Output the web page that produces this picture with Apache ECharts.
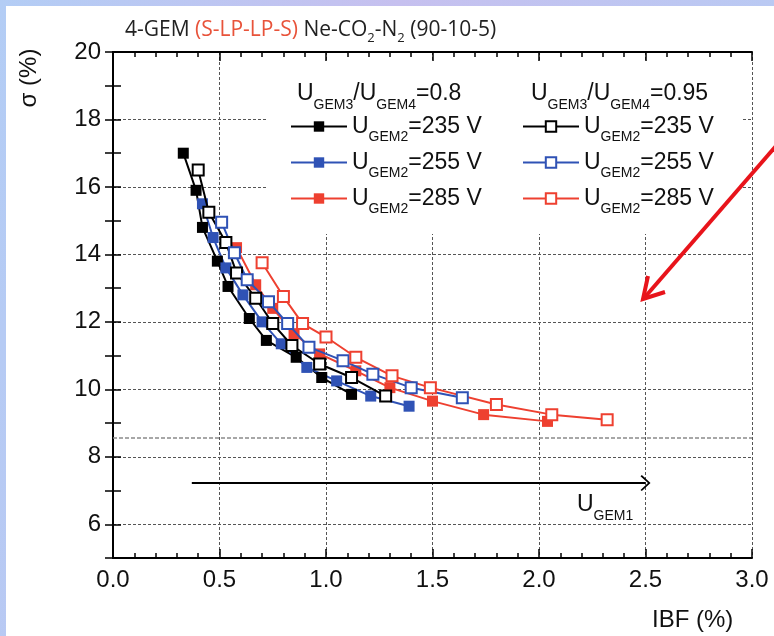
<!DOCTYPE html>
<html lang="en">
<head>
<meta charset="UTF-8" />
<title>sigma vs IBF</title>
<script src="https://cdn.jsdelivr.net/npm/echarts@6.0.0/dist/echarts.min.js"></script>
<style>
  html, body { margin: 0; padding: 0; }
  #main {
    width: 774px; height: 636px;
    background:
      linear-gradient(#fff, #fff) 6px 6px / 768px 630px no-repeat,
      linear-gradient(100deg, #b3cdf5 0%, #c6c0ef 45%, #b6ccf4 100%);
  }
</style>
</head>
<body>
<div id="main"></div>
<script>
const FONT = '"Liberation Sans", Arial, sans-serif';

// IBF (%) / sigma (%)
// U_GEM3/U_GEM4 = 0.8 -> filled squares
const ibfA235 = [0.33, 0.39, 0.42, 0.49, 0.54, 0.64, 0.72, 0.86, 0.98, 1.12];
const sigA235 = [17.0, 15.9, 14.8, 13.8, 13.05, 12.1, 11.45, 10.95, 10.35, 9.85];
const ibfA255 = [0.42, 0.47, 0.53, 0.61, 0.70, 0.79, 0.91, 1.05, 1.21, 1.39];
const sigA255 = [15.5, 14.5, 13.6, 12.8, 12.0, 11.35, 10.65, 10.25, 9.8, 9.5];
const ibfA285 = [0.58, 0.67, 0.75, 0.85, 0.97, 1.14, 1.30, 1.50, 1.74, 2.04];
const sigA285 = [14.2, 13.1, 12.4, 11.65, 11.05, 10.55, 10.05, 9.65, 9.25, 9.05];
// U_GEM3/U_GEM4 = 0.95 -> open squares
const ibfB235 = [0.40, 0.45, 0.53, 0.58, 0.67, 0.75, 0.84, 0.97, 1.12, 1.28];
const sigB235 = [16.5, 15.25, 14.35, 13.45, 12.7, 11.95, 11.3, 10.75, 10.35, 9.8];
const ibfB255 = [0.51, 0.57, 0.63, 0.73, 0.82, 0.92, 1.08, 1.22, 1.40, 1.64];
const sigB255 = [14.95, 14.05, 13.25, 12.6, 11.95, 11.25, 10.85, 10.45, 10.05, 9.75];
const ibfB285 = [0.70, 0.80, 0.89, 1.00, 1.14, 1.31, 1.49, 1.80, 2.06, 2.32];
const sigB285 = [13.75, 12.75, 11.95, 11.55, 10.95, 10.4, 10.05, 9.55, 9.25, 9.1];

const voltages = ['235', '255', '285'];
const yTickLabels = [6, 8, 10, 12, 14, 16, 18, 20];

// U_GEM1 arrow and the grey dashed level
const arrowFrom = [0.37, 7.22];
const arrowTo = [2.5, 7.22];
const dashedLevel = 8.55;

const BLACK = '#000000', BLUE = '#2f52b5', RED = '#ee4030';

const rich = {
  u: { fontFamily: FONT, fontSize: 23, fontWeight: 'normal', color: '#111', lineHeight: 36, verticalAlign: 'middle' },
  s: { fontFamily: FONT, fontSize: 14, fontWeight: 'normal', color: '#111', lineHeight: 14, verticalAlign: 'bottom' }
};

function makeSeries(name, xs, ys, color, open) {
  return {
    name: name,
    type: 'line',
    data: xs.map((x, i) => [x, ys[i]]),
    symbol: open ? 'emptyRect' : 'rect',
    symbolSize: 11,
    lineStyle: { color: color, width: 2 },
    itemStyle: { color: color, borderColor: color, borderWidth: open ? 1.6 : 0 },
    emphasis: { disabled: true },
    z: open ? 3 : 2
  };
}

const series = [
  makeSeries('a235', ibfA235, sigA235, BLACK, false),
  makeSeries('a255', ibfA255, sigA255, BLUE, false),
  makeSeries('a285', ibfA285, sigA285, RED, false),
  makeSeries('b235', ibfB235, sigB235, BLACK, true),
  makeSeries('b255', ibfB255, sigB255, BLUE, true),
  makeSeries('b285', ibfB285, sigB285, RED, true)
];

// dashed level + U_GEM1 arrow
series[0].markLine = {
  silent: true,
  animation: false,
  label: { show: false },
  data: [
    [{ coord: [0, dashedLevel], symbol: 'none' }, { coord: [3, dashedLevel], symbol: 'none' }],
    [{ coord: arrowFrom, symbol: 'none', lineStyle: { color: '#000', width: 2, type: 'solid' } },
     { coord: arrowTo, symbol: 'path://M0,0 L10,9 L8.6,10.4 L0,2.6 L-8.6,10.4 L-10,9 Z', symbolSize: [16, 10] }]
  ],
  lineStyle: { color: '#8a8a8a', width: 1.5, type: [4, 2] }
};

const gridDots = { color: '#555', width: 1, type: [3, 2] };
const axisLine = { show: true, lineStyle: { color: '#000', width: 2 } };

const legendBase = {
  orient: 'vertical',
  top: 115,
  padding: 0,
  itemGap: 6.5,
  itemWidth: 56,
  itemHeight: 13,
  selectedMode: false,
  textStyle: { rich: rich },
  formatter: function (name) {
    return '{u|U}{s|GEM2}{u|=' + name.slice(1) + ' V}';
  }
};

const chart = echarts.init(document.getElementById('main'));
chart.setOption({
  animation: false,
  backgroundColor: 'transparent',
  title: [
    {
      text: '4-GEM {r|(S-LP-LP-S)} Ne-CO{b|2}-N{b|2} (90-10-5)',
      left: 120, top: 10,
      textStyle: {
        fontFamily: '"Open Sans", sans-serif', fontSize: 21, fontWeight: 'normal', color: '#222',
        rich: {
          r: { fontFamily: '"Open Sans", sans-serif', fontSize: 21, fontWeight: 'normal', color: '#e8533a', lineHeight: 30 },
          b: { fontFamily: '"Open Sans", sans-serif', fontSize: 13, fontWeight: 'normal', color: '#222', lineHeight: 13, verticalAlign: 'bottom' }
        }
      }
    },
    { text: '{u|U}{s|GEM3}{u|/U}{s|GEM4}{u|=0.8}', left: 292, top: 71, textStyle: { fontWeight: 'normal', rich: rich } },
    { text: '{u|U}{s|GEM3}{u|/U}{s|GEM4}{u|=0.95}', left: 526, top: 71, textStyle: { fontWeight: 'normal', rich: rich } },
    { text: '{u|U}{s|GEM1}', left: 572, top: 482, textStyle: { fontWeight: 'normal', rich: rich } }
  ],
  legend: [
    Object.assign({}, legendBase, { left: 290, data: voltages.map(v => 'a' + v) }),
    Object.assign({}, legendBase, { left: 522, data: voltages.map(v => 'b' + v) })
  ],
  grid: { left: 113, right: 22, top: 52, bottom: 78, outerBoundsMode: 'none', containLabel: false },
  xAxis: [
    {
      type: 'value', min: 0, max: 3, interval: 0.5, position: 'bottom',
      axisLine: axisLine,
      axisTick: { show: true, inside: true, length: 9, lineStyle: { color: '#000', width: 1.5 } },
      minorTick: { show: true, splitNumber: 5, length: 5, lineStyle: { color: '#000', width: 1.5 } },
      axisLabel: { margin: 10, fontFamily: FONT, fontSize: 24, color: '#111', formatter: v => v.toFixed(1) },
      splitLine: { show: true, lineStyle: gridDots }
    },
    {
      type: 'value', min: 0, max: 3, interval: 0.5, position: 'top',
      axisLine: axisLine,
      axisTick: { show: true, inside: true, length: 9, lineStyle: { color: '#000', width: 1.5 } },
      minorTick: { show: true, splitNumber: 5, length: 5, lineStyle: { color: '#000', width: 1.5 } },
      axisLabel: { show: false },
      splitLine: { show: false }
    }
  ],
  yAxis: [
    {
      type: 'value', min: 5, max: 20, interval: 1, position: 'left',
      axisLine: axisLine,
      axisTick: { show: true, inside: true, length: 8, lineStyle: { color: '#000', width: 1.5 } },
      axisLabel: {
        margin: 12, fontFamily: FONT, fontSize: 24, color: '#111',
        formatter: v => (yTickLabels.indexOf(v) >= 0 ? String(v) : '')
      },
      splitLine: { show: true, lineStyle: Object.assign({}, gridDots, { color: ['rgba(0,0,0,0)', '#555'] }) }
    },
    {
      type: 'value', min: 5, max: 20, interval: 1, position: 'right',
      axisLine: axisLine,
      axisTick: { show: true, inside: true, length: 8, lineStyle: { color: '#000', width: 1.5 } },
      axisLabel: { show: false },
      splitLine: { show: false }
    }
  ],
  graphic: [
    // white box behind the legend hides the grid there
    { type: 'rect', z: 1, silent: true, shape: { x: 268, y: 62, width: 474, height: 172 }, style: { fill: '#fff' } },
    {
      type: 'text', x: 29, y: 78, rotation: Math.PI / 2, silent: true,
      style: { text: 'σ (%)', fontFamily: FONT, fontSize: 24, fill: '#111', align: 'center', verticalAlign: 'middle' }
    },
    {
      type: 'text', x: 652, y: 620, silent: true,
      style: { text: 'IBF (%)', fontFamily: FONT, fontSize: 24, fill: '#111', align: 'left', verticalAlign: 'middle' }
    },
    // red pointer
    {
      type: 'polyline', z: 100, silent: true,
      shape: { points: [[776, 146], [645, 297]] },
      style: { stroke: '#e8141b', lineWidth: 4, fill: null }
    },
    {
      type: 'polyline', z: 100, silent: true,
      shape: { points: [[665, 292], [643, 299], [648, 276]] },
      style: { stroke: '#e8141b', lineWidth: 4, fill: null, lineJoin: 'miter' }
    }
  ],
  series: series
});
</script>
</body>
</html>
